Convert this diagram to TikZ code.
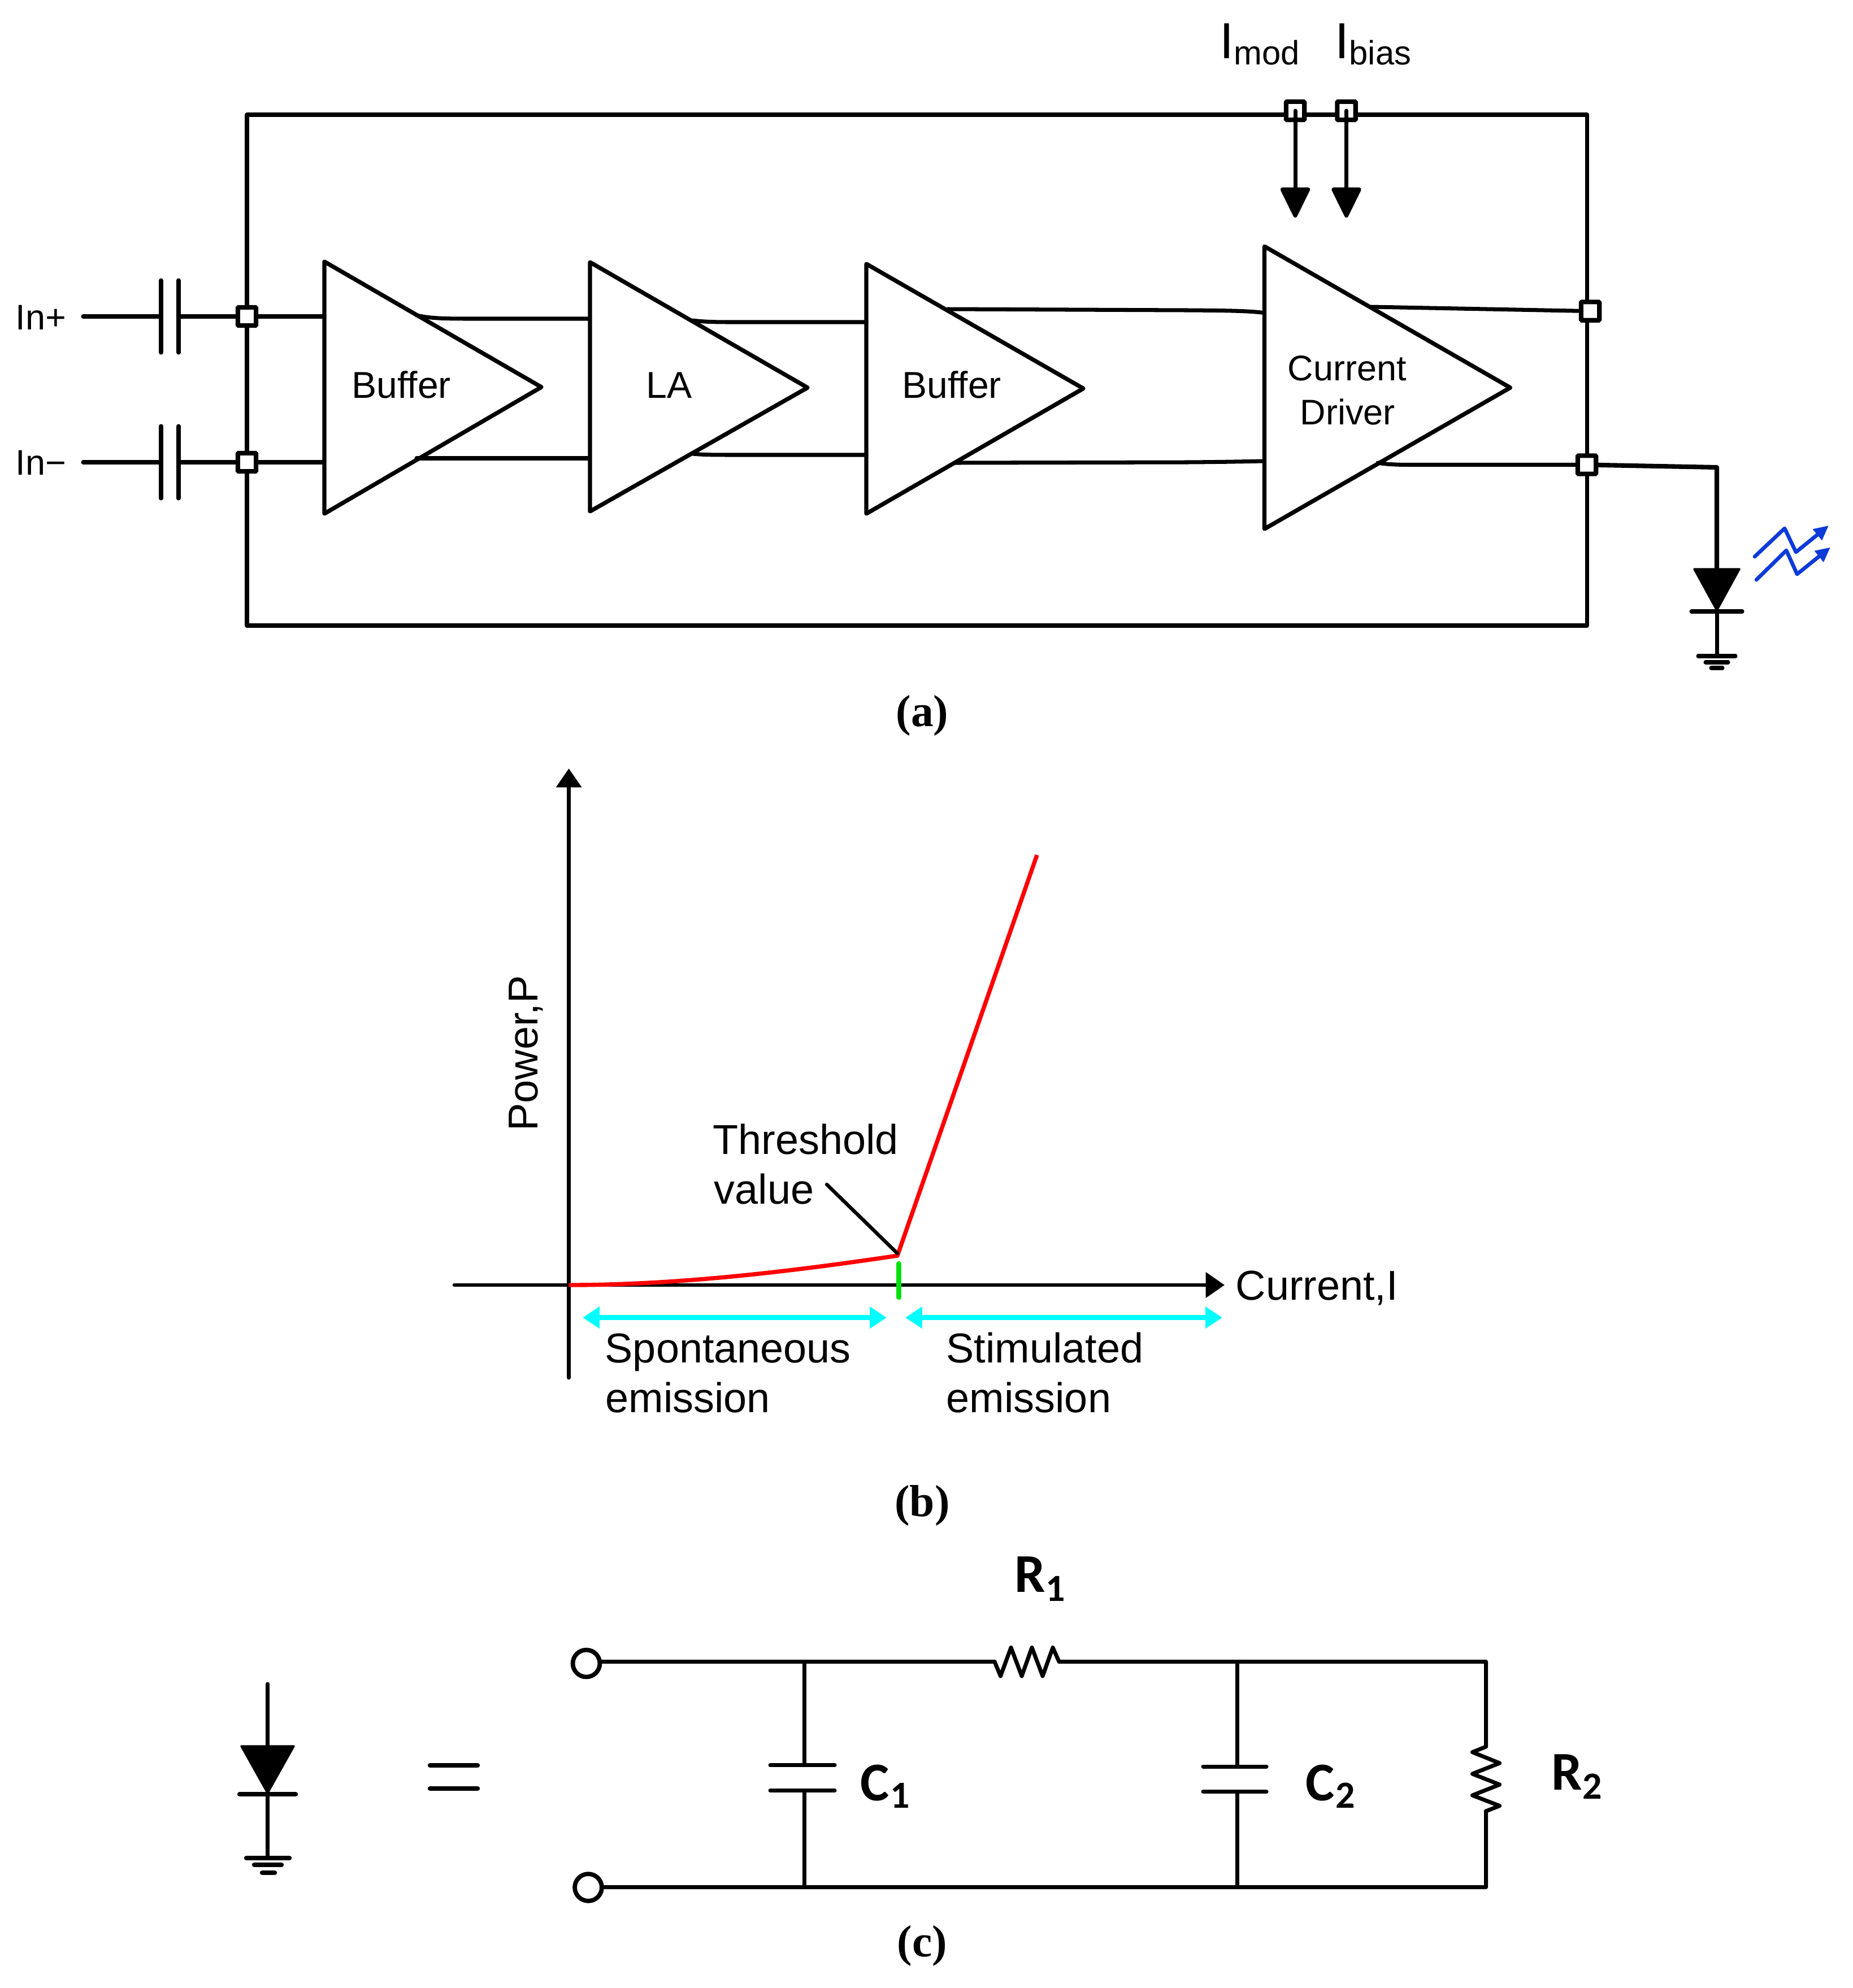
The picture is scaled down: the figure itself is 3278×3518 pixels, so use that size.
\documentclass[tikz,border=0pt]{standalone}
\usepackage{fontspec}
\setmainfont{Liberation Sans}
\newfontfamily\serifcap{Liberation Serif}
\newfontfamily\carl{Carlito}
\usetikzlibrary{arrows.meta}
\pgfdeclarelayer{bg}
\pgfsetlayers{bg,main}
\definecolor{bluelight}{HTML}{0D3BD8}
\definecolor{greenmark}{HTML}{00E010}
\definecolor{cyanmark}{HTML}{00FFFF}
\newcommand{\isubtext}[1]{\raisebox{-3.1pt}{\fontsize{17pt}{20pt}\selectfont #1}}
\tikzset{
  wire/.style={line width=2pt,line join=round,line cap=round},
  amp/.style={line width=2.1pt,line join=round},
  pad/.style={draw,fill=white,line width=2.3pt,minimum size=9.2pt,inner sep=0pt,rounded corners=0.4pt},
  lbl/.style={anchor=base west,inner sep=0pt,font=\fontsize{17.9pt}{21pt}\selectfont},
  bufflbl/.style={anchor=base west,inner sep=0pt,font=\fontsize{18.8pt}{22pt}\selectfont},
  plotlbl/.style={anchor=base west,inner sep=0pt,font=\fontsize{21pt}{25pt}\selectfont},
  imain/.style={anchor=base west,inner sep=0pt,font=\fontsize{25.5pt}{29pt}\selectfont},
  caption/.style={inner sep=0pt,font=\serifcap\bfseries\fontsize{22.6pt}{26pt}\selectfont},
  val/.style={anchor=base west,inner sep=0pt,font=\carl\bfseries\fontsize{27.5pt}{31pt}\selectfont},
  valsub/.style={anchor=base west,inner sep=0pt,font=\carl\bfseries\fontsize{19.3pt}{22pt}\selectfont},
  darrow/.style={wire,-{Triangle[length=16.5pt,width=15.6pt,round]}},
  blueray/.style={line width=1.9pt,bluelight,line join=round,line cap=round,-{Triangle[length=7.4pt,width=6.8pt]}},
  cyanarrow/.style={cyanmark,line width=2.6pt,{Triangle[length=8.5pt,width=10.5pt]}-{Triangle[length=8.5pt,width=10.5pt]}},
  axisarrow/.style={line width=1.9pt,line cap=round,-{Triangle[length=9.5pt,width=12.6pt]}},
  terminal/.style={circle,draw,fill=white,line width=2.2pt,minimum size=13.6pt,inner sep=0pt},
  solidtri/.style={fill=black,draw=black,line width=1pt,line join=round}
}
\begin{document}
\begin{tikzpicture}[x=0.01cm,y=-0.01cm]
\useasboundingbox (0,0) rectangle (3278,3518);

%%% (a) pads
\node[pad] (padA) at (437,560) {};
\node[pad] (padB) at (437,818) {};
\node[pad] (padM) at (2292,196) {};
\node[pad] (padI) at (2382.5,196) {};
\node[pad] (padU) at (2814,550.6) {};
\node[pad] (padL) at (2808,822.5) {};

\coordinate (frTL) at (437,203);
\coordinate (frTR) at (2808,203);
\coordinate (frBR) at (2808,1107);
\coordinate (frBL) at (437,1107);
\begin{pgfonlayer}{bg}
\draw[wire] (frTL) -- (frTR) -- (frBR) -- (frBL) -- cycle;
\end{pgfonlayer}

% amplifiers
\coordinate (a1T) at (574,463); \coordinate (a1B) at (574,909); \coordinate (a1R) at (958,685);
\coordinate (a2T) at (1044,464); \coordinate (a2B) at (1044,905); \coordinate (a2R) at (1429,686);
\coordinate (a3T) at (1533,467); \coordinate (a3B) at (1533,909); \coordinate (a3R) at (1917,687.5);
\coordinate (a4T) at (2237.5,436); \coordinate (a4B) at (2237.5,936); \coordinate (a4R) at (2672.5,686);
\draw[amp] (a1T) -- (a1R) -- (a1B) -- cycle;
\draw[amp] (a2T) -- (a2R) -- (a2B) -- cycle;
\draw[amp] (a3T) -- (a3R) -- (a3B) -- cycle;
\draw[amp] (a4T) -- (a4R) -- (a4B) -- cycle;
\node[bufflbl] (t1) at (622,704) {Buffer};
\node[bufflbl] (t2) at (1143,704) {LA};
\node[bufflbl] (t3) at (1596,704) {Buffer};
\node[lbl] (t4a) at (2278,673) {Current};
\node[lbl] (t4b) at (2300,751) {Driver};

% inputs
\node[lbl] (inP) at (27,583) {In+};
\node[lbl] (inN) at (27,840) {In−};
\coordinate (iP) at (147,560); \coordinate (iN) at (147,818);
\coordinate (c1a) at (285,560); \coordinate (c1b) at (316,560);
\coordinate (c2a) at (285,818); \coordinate (c2b) at (316,818);
\coordinate (a1in1) at (574,560); \coordinate (a1in2) at (574,818);
\begin{pgfonlayer}{bg}
\draw[wire] (iP) -- (c1a); \draw[wire] (c1b) -- (padA.center) -- (a1in1);
\draw[wire] (iN) -- (c2a); \draw[wire] (c2b) -- (padB.center) -- (a1in2);
\end{pgfonlayer}
\draw[wire] (285,496) -- (285,624);
\draw[wire] (316,496) -- (316,624);
\draw[wire] (285,754) -- (285,882);
\draw[wire] (316,754) -- (316,882);

% inter-stage wires
\draw[wire] (737,558) .. controls (760,563) and (780,564) .. (830,564) -- (1044,564);
\draw[wire] (737,811) -- (1044,811);
\draw[wire] (1226,567) .. controls (1240,569) and (1260,570) .. (1290,570) -- (1533,570);
\draw[wire] (1226,803) .. controls (1245,805) and (1265,805) .. (1310,805) -- (1533,805);
\draw[wire] (1677,547) -- (2100,549) .. controls (2170,549.5) and (2210,550) .. (2237,553.6);
\draw[wire] (1690,819) -- (2100,818) .. controls (2170,817.5) and (2210,816.5) .. (2237,816);
\begin{pgfonlayer}{bg}
\draw[wire] (2427,543) -- (padU.center);
\draw[wire] (2438,819) .. controls (2455,822) and (2475,822.5) .. (2498,822.5) -- (padL.center);
\end{pgfonlayer}

% Imod Ibias
\node[imain] (lm) at (2158,104) {I\isubtext{mod}};
\node[imain] (lb) at (2362,104) {I\isubtext{bias}};
\coordinate (tipM) at (2292,385); \coordinate (tipI) at (2382.5,385);
\draw[darrow] (padM.center) -- (tipM);
\draw[darrow] (padI.center) -- (tipI);

% laser diode
\coordinate (ldC) at (3038,827); \coordinate (ldT) at (3038,1007);
\coordinate (ldBar) at (3038,1082); \coordinate (ldG) at (3038,1161);
\begin{pgfonlayer}{bg}
\draw[line width=2.3pt,line join=round] (padL.center) -- (ldC) -- (ldT);
\end{pgfonlayer}
\draw[solidtri] (2998,1007) -- (3078,1007) -- (3038,1080) -- cycle;
\draw[wire] (2993,1082) -- (3083,1082);
\draw[wire] (ldBar) -- (ldG);
\draw[wire] (3005,1161) -- (3071,1161);
\draw[wire] (3018,1172) -- (3058,1172);
\draw[wire] (3028,1182) -- (3048,1182);
\draw[blueray] (3105,985) -- (3158,935) -- (3178,977) -- (3236,930);
\draw[blueray] (3108,1026) -- (3161,974) -- (3180,1016) -- (3239,968.5);
\node[caption] (capa) at (1632,1266) {(a)};

%%% (b)
\coordinate (oX) at (1006.6,2274);
\coordinate (yTop) at (1006.6,1360); \coordinate (yBot) at (1006.6,2438);
\coordinate (xL) at (804,2274); \coordinate (xR) at (2167,2274);
\coordinate (thr) at (1588,2222); \coordinate (curveEnd) at (1835,1513);
\draw[axisarrow] (yBot) -- (yTop);
\draw[axisarrow] (xL) -- (xR);
\draw[red,line width=2.1pt,line join=round] (oX) .. controls (1200,2274) and (1400,2250) .. (thr) -- (curveEnd);
\coordinate (lead) at (1463,2096);
\draw[line width=1.8pt,line cap=round] (lead) -- (1588,2218);
\draw[greenmark,line width=2.4pt,line cap=round] (1590.5,2236) -- (1590.5,2296);
\draw[cyanarrow] (1031,2331.6) -- (1569,2331.6);
\draw[cyanarrow] (1602,2331.6) -- (2163,2331.6);
\node[plotlbl,rotate=90] (lP) at (951,2002) {Power,P};
\node[plotlbl] (lT) at (1261,2042) {Threshold};
\node[plotlbl] (lV) at (1263,2130) {value};
\node[plotlbl] (lC) at (2186,2300) {Current,I};
\node[plotlbl] (lS) at (1070,2411) {Spontaneous};
\node[plotlbl] (lE1) at (1071,2499) {emission};
\node[plotlbl] (lSt) at (1674,2411) {Stimulated};
\node[plotlbl] (lE2) at (1674,2499) {emission};
\node[caption] (capb) at (1632,2664) {(b)};

%%% (c)
\node[terminal] (tTop) at (1037.5,2943.6) {};
\node[terminal] (tBot) at (1041,3340) {};
\coordinate (j1T) at (1423,2940.5); \coordinate (j1B) at (1423,3339.5);
\coordinate (j2T) at (2189,2940.5); \coordinate (j2B) at (2189,3339.5);
\coordinate (rT) at (2629.5,2940.5); \coordinate (rB) at (2629.5,3339.5);
\begin{pgfonlayer}{bg}
\draw[wire] (tTop.center) -- (1060,2940.5) -- (1760,2940.5);
\draw[wire] (tBot.center) -- (1060,3339.5) -- (rB) -- (2629.5,3205);
\end{pgfonlayer}
\draw[wire] (1760,2940.5) -- (1770.5,2966) -- (1789,2915.5) -- (1808,2966) -- (1826,2915.5) -- (1845,2966) -- (1863,2915.5) -- (1874,2940.5) -- (j2T) -- (rT) -- (2629.5,3091)
  -- (2605.5,3100.6) -- (2653.6,3120) -- (2605.5,3139) -- (2653.6,3158) -- (2605.5,3177) -- (2653.6,3195.6) -- (2629.5,3205);
\draw[wire] (j1T) -- (1423,3123.6); \draw[wire] (1423,3168.5) -- (j1B);
\draw[wire] (j2T) -- (2189,3126); \draw[wire] (2189,3170.5) -- (j2B);
\draw[wire] (1363,3123.6) -- (1477,3123.6);
\draw[wire] (1363,3168.5) -- (1477,3168.5);
\draw[wire] (2129,3126) -- (2241,3126);
\draw[wire] (2129,3170.5) -- (2241,3170.5);
\node[val] (lR1) at (1795,2817) {R};
\node[valsub] (lR1s) at (1850,2833) {1};
\node[val] (lC1) at (1522,3186) {C};
\node[valsub] (lC1s) at (1575,3199) {1};
\node[val] (lC2) at (2310,3186) {C};
\node[valsub] (lC2s) at (2363,3199) {2};
\node[val] (lR2) at (2745,3167) {R};
\node[valsub] (lR2s) at (2800,3183) {2};
% left diode
\coordinate (dTop) at (473.5,2980); \coordinate (dBar) at (473.5,3175); \coordinate (dG) at (473.5,3284);
\draw[wire] (dTop) -- (473.5,3090);
\draw[solidtri] (427,3090) -- (520,3090) -- (473.5,3173) -- cycle;
\draw[line width=2.4pt,line cap=round] (424,3175) -- (523,3175);
\draw[wire] (dBar) -- (dG);
\draw[line width=2.4pt,line cap=round] (436,3288) -- (512,3288);
\draw[line width=2.4pt,line cap=round] (450,3300) -- (498,3300);
\draw[line width=2.4pt,line cap=round] (464,3314) -- (486,3314);
\draw[line width=2.4pt,line cap=round] (761,3124) -- (845,3124);
\draw[line width=2.4pt,line cap=round] (761,3165) -- (845,3165);
\node[caption] (capc) at (1632,3443) {(c)};
\end{tikzpicture}
\end{document}
